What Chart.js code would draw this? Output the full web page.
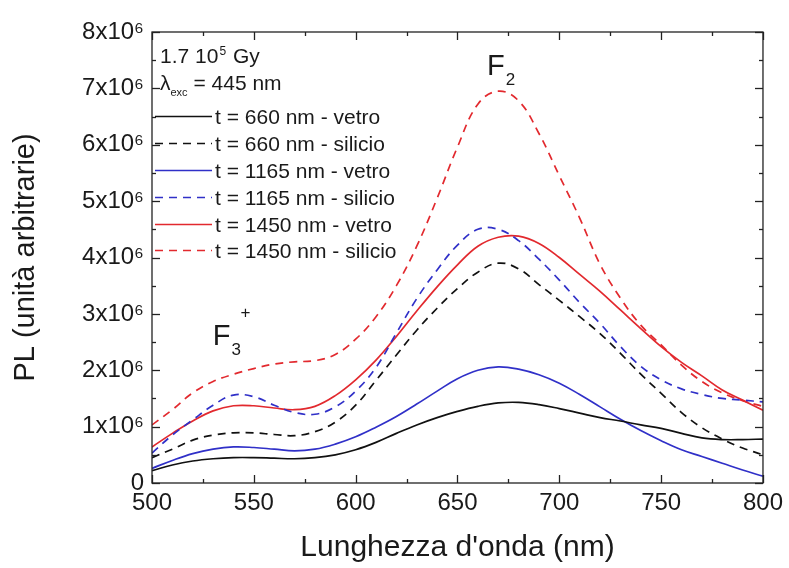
<!DOCTYPE html>
<html>
<head>
<meta charset="utf-8">
<script src="https://cdn.jsdelivr.net/npm/chart.js@4.4.1/dist/chart.umd.min.js"></script>
<style>
html,body{margin:0;padding:0;background:#fff;}
#wrap{width:789px;height:568px;}
</style>
</head>
<body>
<div id="wrap"><canvas id="c" width="789" height="568"></canvas></div>
<script>
// Wavelength (nm)
const wavelengths = [500,510,520,530,540,550,560,570,580,590,600,610,620,630,640,650,660,670,680,690,700,710,720,730,740,750,760,770,780,790,800];
// PL values in units of 10^6 (arbitrary units)
const t660Vetro    = [0.22,0.32,0.39,0.43,0.45,0.45,0.44,0.43,0.45,0.50,0.59,0.72,0.88,1.03,1.16,1.27,1.36,1.42,1.43,1.39,1.32,1.24,1.16,1.10,1.03,0.97,0.88,0.80,0.77,0.77,0.78];
const t660Silicio  = [0.45,0.60,0.76,0.85,0.89,0.89,0.86,0.84,0.91,1.08,1.38,1.82,2.27,2.71,3.10,3.45,3.74,3.90,3.80,3.52,3.24,2.95,2.65,2.30,1.93,1.59,1.25,0.98,0.78,0.62,0.50];
const t1165Vetro   = [0.26,0.40,0.52,0.60,0.64,0.63,0.60,0.57,0.60,0.69,0.82,0.99,1.18,1.40,1.63,1.85,2.00,2.06,2.02,1.92,1.77,1.57,1.35,1.13,0.93,0.75,0.59,0.47,0.35,0.23,0.12];
const t1165Silicio = [0.53,0.85,1.12,1.38,1.56,1.53,1.38,1.25,1.22,1.35,1.63,2.05,2.66,3.27,3.78,4.22,4.50,4.50,4.30,3.97,3.60,3.20,2.83,2.42,2.07,1.83,1.67,1.57,1.50,1.47,1.44];
const t1450Vetro   = [0.64,0.88,1.10,1.28,1.37,1.37,1.33,1.30,1.36,1.55,1.83,2.18,2.60,3.05,3.48,3.87,4.20,4.36,4.38,4.25,4.00,3.70,3.40,3.07,2.74,2.42,2.14,1.90,1.65,1.47,1.29];
const t1450Silicio = [1.03,1.30,1.60,1.80,1.93,2.03,2.11,2.15,2.17,2.28,2.55,2.95,3.50,4.20,5.05,5.96,6.72,6.95,6.78,6.20,5.45,4.70,3.88,3.28,2.80,2.45,2.09,1.80,1.60,1.46,1.36];
const seriesLabels = ['t = 660 nm - vetro','t = 660 nm - silicio','t = 1165 nm - vetro','t = 1165 nm - silicio','t = 1450 nm - vetro','t = 1450 nm - silicio'];
const xTickValues = [500,550,600,650,700,750,800];
const yTickValues = [0,1,2,3,4,5,6,7,8];

const BLACK = '#111111', BLUE = '#3030c8', RED = '#e2292e';
const FONT = 'Liberation Sans, Arial, sans-serif';
const DASH = [8,6];

function mk(label, vals, color, dashed){
  return {
    label,
    data: wavelengths.map((w,i)=>({x:w, y:vals[i]})),
    borderColor: color,
    backgroundColor: color,
    borderWidth: 1.7,
    borderDash: dashed ? DASH : [],
    pointRadius: 0,
    tension: 0.4,
    fill: false
  };
}

const datasets = [
  mk(seriesLabels[0], t660Vetro, BLACK, false),
  mk(seriesLabels[1], t660Silicio, BLACK, true),
  mk(seriesLabels[2], t1165Vetro, BLUE, false),
  mk(seriesLabels[3], t1165Silicio, BLUE, true),
  mk(seriesLabels[4], t1450Vetro, RED, false),
  mk(seriesLabels[5], t1450Silicio, RED, true)
];

const frameTicks = {
  id: 'frameTicks',
  afterDraw(chart){
    const {ctx, chartArea:a, scales:{x,y}} = chart;
    ctx.save();
    ctx.strokeStyle = '#222';
    ctx.lineWidth = 1.3;
    ctx.strokeRect(a.left, a.top, a.right-a.left, a.bottom-a.top);
    const L = (x1,y1,x2,y2)=>{ctx.beginPath();ctx.moveTo(x1,y1);ctx.lineTo(x2,y2);ctx.stroke();};
    const xt = x.ticks.map(t=>t.value);
    xt.forEach((v,i)=>{
      const p = Math.round(x.getPixelForValue(v))+0.5;
      L(p,a.bottom,p,a.bottom-8); L(p,a.top,p,a.top+8);
      if(i<xt.length-1){
        const m = Math.round(x.getPixelForValue((v+xt[i+1])/2))+0.5;
        L(m,a.bottom,m,a.bottom-4); L(m,a.top,m,a.top+4);
      }
    });
    const yt = y.ticks.map(t=>t.value);
    yt.forEach((v,i)=>{
      const p = Math.round(y.getPixelForValue(v))+0.5;
      L(a.left,p,a.left+8,p); L(a.right,p,a.right-8,p);
      if(i<yt.length-1){
        const m = Math.round(y.getPixelForValue((v+yt[i+1])/2))+0.5;
        L(a.left,m,a.left+4,m); L(a.right,m,a.right-4,m);
      }
    });
    ctx.restore();
  }
};

const legendAndNotes = {
  id: 'legendAndNotes',
  afterDraw(chart){
    const {ctx, scales:{x,y}} = chart;
    ctx.save();
    ctx.fillStyle = '#1a1a1a';
    ctx.textBaseline = 'alphabetic';
    ctx.textAlign = 'left';
    // header lines
    ctx.font = '21px ' + FONT;
    let tx = 160;
    ctx.fillText('1.7 10', tx, 63);
    tx += ctx.measureText('1.7 10').width;
    ctx.font = '12px ' + FONT;
    ctx.fillText('5', tx + 1, 55);
    tx += ctx.measureText('5').width + 2;
    ctx.font = '21px ' + FONT;
    ctx.fillText(' Gy', tx, 63);

    tx = 160;
    ctx.fillText('\u03BB', tx, 90);
    tx += ctx.measureText('\u03BB').width;
    ctx.font = '11px ' + FONT;
    ctx.fillText('exc', tx, 96);
    tx += ctx.measureText('exc').width;
    ctx.font = '21px ' + FONT;
    ctx.fillText(' = 445 nm', tx, 90);

    // series entries
    const baselines = [124,151,178,205,232,258];
    chart.data.datasets.forEach((ds,i)=>{
      const by = baselines[i];
      const ly = by - 7.5;
      ctx.save();
      ctx.strokeStyle = ds.borderColor;
      ctx.lineWidth = ds.borderWidth;
      ctx.setLineDash(ds.borderDash || []);
      ctx.beginPath(); ctx.moveTo(155, ly); ctx.lineTo(212, ly); ctx.stroke();
      ctx.restore();
      ctx.font = '21px ' + FONT;
      ctx.fillText(ds.label, 215, by);
    });

    // peak labels (anchored in data coordinates)
    const f2x = x.getPixelForValue(664.5), f2y = y.getPixelForValue(7.23);
    ctx.font = '29px ' + FONT;
    ctx.fillText('F', f2x, f2y);
    let w = ctx.measureText('F').width;
    ctx.font = '17px ' + FONT;
    ctx.fillText('2', f2x + w + 1, f2y + 10);

    const f3x = x.getPixelForValue(529.8), f3y = y.getPixelForValue(2.45);
    ctx.font = '29px ' + FONT;
    ctx.fillText('F', f3x, f3y);
    w = ctx.measureText('F').width;
    ctx.font = '17px ' + FONT;
    ctx.fillText('3', f3x + w + 1, f3y + 10);
    ctx.fillText('+', f3x + w + 10, f3y - 27);
    ctx.restore();
  }
};

Chart.defaults.font.family = FONT;
Chart.defaults.color = '#1a1a1a';

new Chart(document.getElementById('c'), {
  type: 'line',
  data: { datasets },
  options: {
    responsive: false,
    animation: false,
    devicePixelRatio: 1,
    layout: { padding: { left: 0, top: 32, right: 26, bottom: 0 } },
    plugins: { legend: { display: false }, tooltip: { enabled: false } },
    scales: {
      x: {
        type: 'linear',
        min: 500, max: 800,
        afterBuildTicks(scale){ scale.ticks = xTickValues.map(v=>({value:v})); },
        afterFit(scale){ scale.height = 85; },
        grid: { display: false, drawTicks: false },
        border: { display: false },
        ticks: { font: { size: 24 }, padding: 6, maxRotation: 0, color: '#1a1a1a' },
        title: { display: true, text: "Lunghezza d'onda (nm)", font: { size: 30, lineHeight: 1.2 }, padding: { bottom: 2, top: 0 }, color: '#1a1a1a' }
      },
      y: {
        type: 'linear',
        min: 0, max: 8,
        afterBuildTicks(scale){ scale.ticks = yTickValues.map(v=>({value:v})); },
        afterFit(scale){ scale.width = 152; },
        grid: { display: false, drawTicks: false },
        border: { display: false },
        ticks: { font: { size: 24 }, padding: 8, color: '#1a1a1a',
          callback: v => v === 0 ? '0' : v + 'x10\u2076' },
        title: { display: true, text: 'PL (unità arbitrarie)', font: { size: 29, lineHeight: 1.2 }, padding: { top: 9, bottom: 0 }, color: '#1a1a1a' }
      }
    }
  },
  plugins: [frameTicks, legendAndNotes]
});
</script>
</body>
</html>
